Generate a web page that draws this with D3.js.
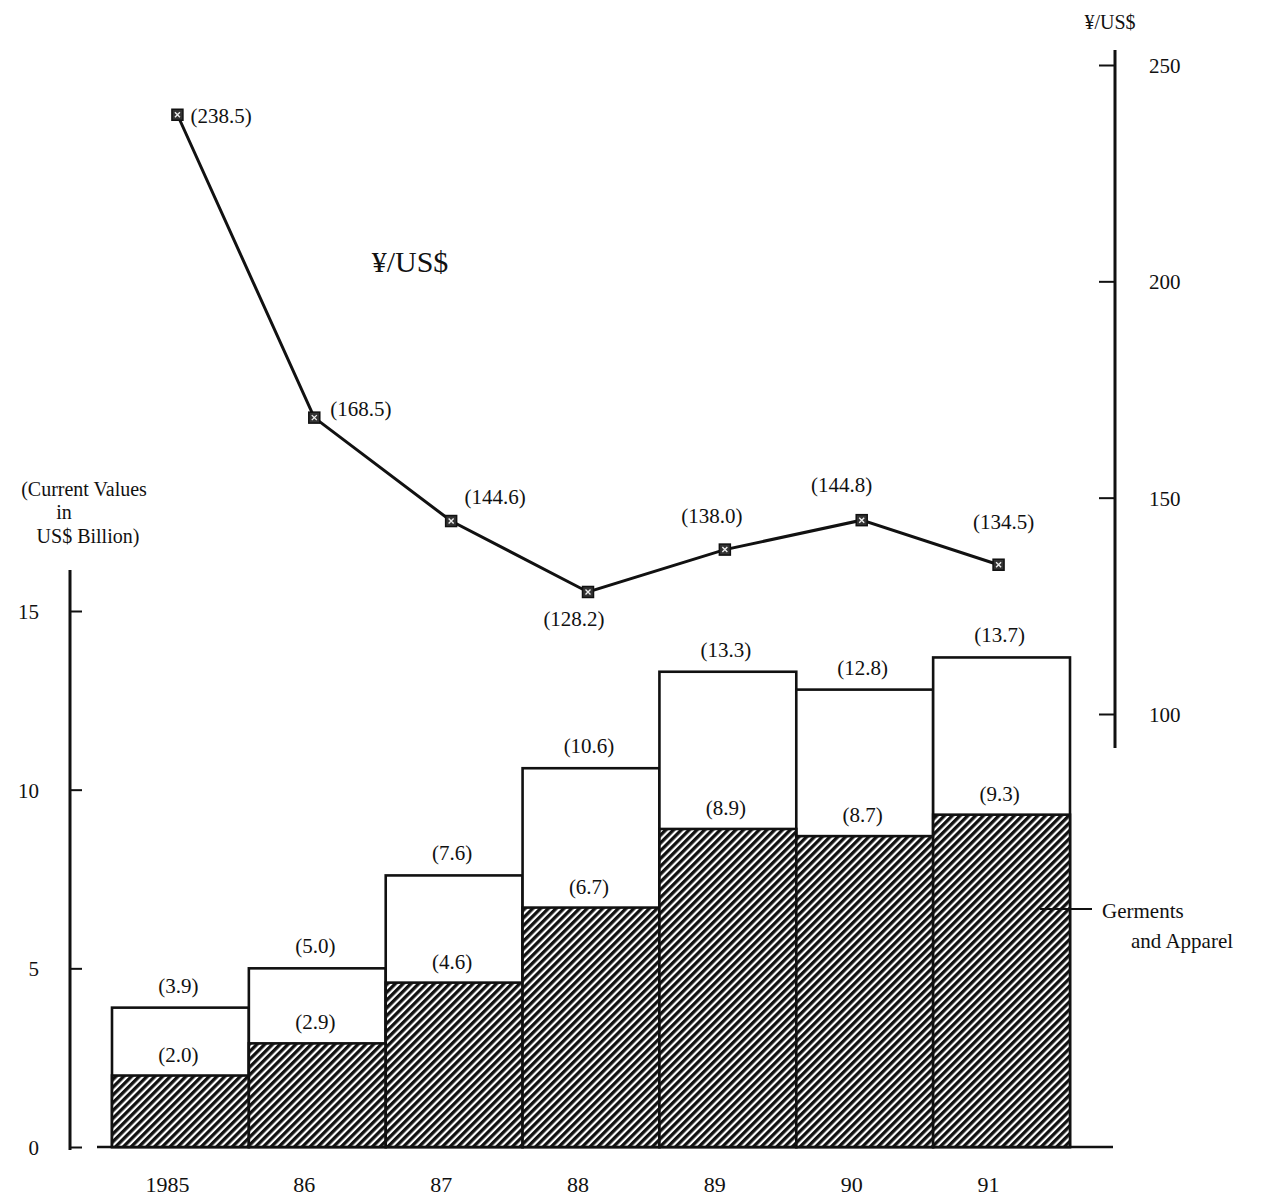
<!DOCTYPE html>
<html><head><meta charset="utf-8">
<script src="https://cdn.jsdelivr.net/npm/d3@7"></script>
<style>body{margin:0;background:#fff}svg{display:block}text{font-family:"Liberation Serif","DejaVu Serif",serif;fill:#111}</style>
</head><body>
<script>
const years = ["1985","86","87","88","89","90","91"];
const totalValues = [3.9, 5.0, 7.6, 10.6, 13.3, 12.8, 13.7];
const garmentValues = [2.0, 2.9, 4.6, 6.7, 8.9, 8.7, 9.3];
const yenRates = [238.5, 168.5, 144.6, 128.2, 138.0, 144.8, 134.5];
const leftTicks = [0, 5, 10, 15];
const rightTicks = [100, 150, 200, 250];
// label offsets for rate labels [dx, dy, anchor]
const rateLabelPos = [[13,8,"start"],[16,-2,"start"],[44,-17,"middle"],[-14,34,"middle"],[-13,-27,"middle"],[-20,-28,"middle"],[5,-36,"middle"]];

const W = 1261, H = 1198;
const svg = d3.select("body").append("svg").attr("width", W).attr("height", H);

const defs = svg.append("defs");
const pat = defs.append("pattern").attr("id","hatch").attr("patternUnits","userSpaceOnUse")
  .attr("width",5.5).attr("height",5.5).attr("patternTransform","rotate(45)");
pat.append("rect").attr("width",5.5).attr("height",5.5).attr("fill","#fff");
pat.append("line").attr("x1",1.6).attr("y1",0).attr("x2",1.6).attr("y2",5.5).attr("stroke","#111").attr("stroke-width",3.4);

const x = d3.scaleBand().domain(years).range([112, 1070]).padding(0);
const yL = d3.scaleLinear().domain([0, 15]).range([1147, 611]);
const yR = d3.scaleLinear().domain([100, 250]).range([714, 65]);

// left axis
const leftAxis = d3.axisRight(yL).tickValues(leftTicks).tickSize(12).tickFormat("");
const gl = svg.append("g").attr("transform","translate(70,0)").call(leftAxis);
gl.select(".domain").remove();
gl.selectAll(".tick line").attr("stroke","#111").attr("stroke-width",2);
svg.append("line").attr("x1",70).attr("x2",70).attr("y1",570).attr("y2",1150).attr("stroke","#111").attr("stroke-width",3);
svg.selectAll(".ltl").data(leftTicks).enter().append("text")
  .attr("x", 39).attr("y", d => yL(d) + 8).attr("text-anchor","end").attr("font-size",21).text(d => d);

svg.append("text").attr("x",84).attr("y",496).attr("text-anchor","middle").attr("font-size",20).text("(Current Values");
svg.append("text").attr("x",64).attr("y",519).attr("text-anchor","middle").attr("font-size",20).text("in");
svg.append("text").attr("x",88).attr("y",543).attr("text-anchor","middle").attr("font-size",20).text("US$ Billion)");

// baseline
svg.append("line").attr("x1",97).attr("x2",1113).attr("y1",yL(0)).attr("y2",yL(0)).attr("stroke","#111").attr("stroke-width",2.5);

// bars
const bars = svg.append("g");
bars.selectAll(".tot").data(totalValues).enter().append("rect")
  .attr("x",(d,i)=>x(years[i])).attr("width",x.bandwidth())
  .attr("y",d=>yL(d)).attr("height",d=>yL(0)-yL(d))
  .attr("fill","#fff").attr("stroke","#111").attr("stroke-width",2.6);
bars.selectAll(".gar").data(garmentValues).enter().append("rect")
  .attr("x",(d,i)=>x(years[i])).attr("width",x.bandwidth())
  .attr("y",d=>yL(d)).attr("height",d=>yL(0)-yL(d))
  .attr("fill","url(#hatch)").attr("stroke","#111").attr("stroke-width",2.6);

svg.selectAll(".totl").data(totalValues).enter().append("text")
  .attr("x",(d,i)=>x(years[i])+x.bandwidth()/2 - 2).attr("y",d=>yL(d)-15)
  .attr("text-anchor","middle").attr("font-size",21).text(d=>"("+d.toFixed(1)+")");
svg.selectAll(".garl").data(garmentValues).enter().append("text")
  .attr("x",(d,i)=>x(years[i])+x.bandwidth()/2 - 2).attr("y",d=>yL(d)-14)
  .attr("text-anchor","middle").attr("font-size",21).text(d=>"("+d.toFixed(1)+")");

// x labels
svg.selectAll(".xl").data(years).enter().append("text")
  .attr("x",d=>x(d)+x.bandwidth()/2-13).attr("y",1192)
  .attr("text-anchor","middle").attr("font-size",22).text(d=>d);

// right axis
const rightAxis = d3.axisLeft(yR).tickValues(rightTicks).tickSize(16).tickFormat("");
const gr = svg.append("g").attr("transform","translate(1115,0)").call(rightAxis);
gr.select(".domain").remove();
gr.selectAll(".tick line").attr("stroke","#111").attr("stroke-width",2);
svg.append("line").attr("x1",1115).attr("x2",1115).attr("y1",50).attr("y2",748).attr("stroke","#111").attr("stroke-width",3);
svg.selectAll(".rtl").data(rightTicks).enter().append("text")
  .attr("x",1149).attr("y",d=>yR(d)+8).attr("font-size",21).text(d=>d);
svg.append("text").attr("x",1110).attr("y",29).attr("text-anchor","middle").attr("font-size",20).text("¥/US$");

// rate line
const px = (d,i)=>x(years[i])+x.bandwidth()/2-3;
const line = d3.line().x((d,i)=>px(d,i)).y(d=>yR(d));
svg.append("path").datum(yenRates).attr("d",line).attr("fill","none").attr("stroke","#111").attr("stroke-width",3);
const mk = svg.selectAll(".mk").data(yenRates).enter().append("g")
  .attr("transform",(d,i)=>`translate(${px(d,i)},${yR(d)})`);
mk.append("rect").attr("x",-5.5).attr("y",-5.5).attr("width",11).attr("height",11).attr("fill","#333").attr("stroke","#111").attr("stroke-width",1.5);
mk.append("path").attr("d","M-2.5,-2.5L2.5,2.5M2.5,-2.5L-2.5,2.5").attr("stroke","#eee").attr("stroke-width",1.4);
svg.selectAll(".rl").data(yenRates).enter().append("text")
  .attr("x",(d,i)=>px(d,i)+rateLabelPos[i][0]).attr("y",(d,i)=>yR(d)+rateLabelPos[i][1])
  .attr("text-anchor",(d,i)=>rateLabelPos[i][2]).attr("font-size",21).text(d=>"("+d.toFixed(1)+")");
svg.append("text").attr("x",410).attr("y",272).attr("text-anchor","middle").attr("font-size",30).text("¥/US$");

// legend annotation
svg.append("line").attr("x1",1040).attr("x2",1092).attr("y1",909).attr("y2",909).attr("stroke","#111").attr("stroke-width",2);
svg.append("text").attr("x",1102).attr("y",918).attr("font-size",21).text("Germents");
svg.append("text").attr("x",1131).attr("y",948).attr("font-size",21).text("and Apparel");
</script>
</body></html>
